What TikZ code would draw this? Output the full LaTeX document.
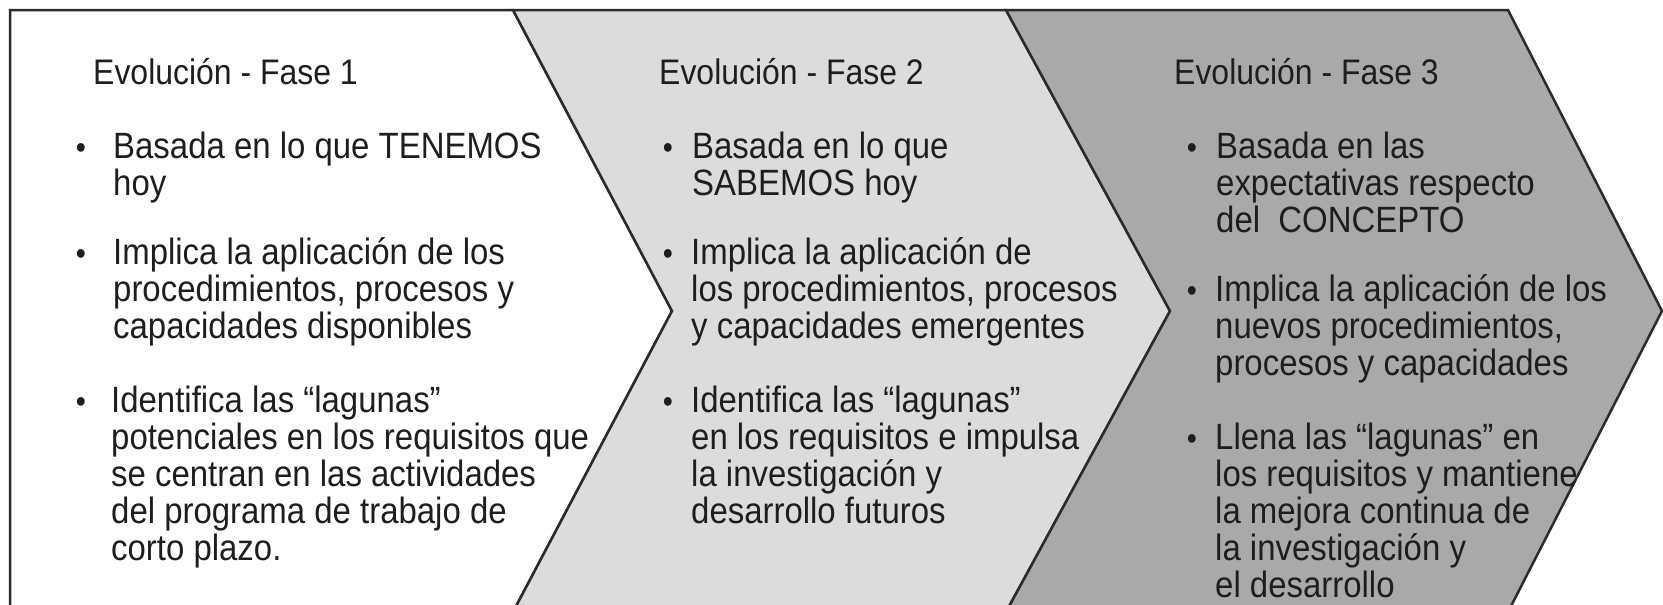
\documentclass[tikz,border=0pt]{standalone}
\usepackage{fontspec}
\setmainfont[FakeStretch=0.9]{Liberation Sans}
\definecolor{edge}{HTML}{2B2B2B}
\definecolor{fillA}{HTML}{FFFFFF}
\definecolor{fillB}{HTML}{DCDCDC}
\definecolor{fillC}{HTML}{A9A9A9}
\definecolor{ink}{HTML}{1E1E1E}
\tikzset{
  phase/.style={draw=edge, line width=2.5pt, line join=miter},
  headtext/.style={anchor=base west, inner sep=0pt, text=ink, font=\fontsize{35.5}{37}\selectfont},
  bodytext/.style={anchor=base west, inner sep=0pt, text=ink, font=\fontsize{36.6}{37}\selectfont},
  dottext/.style={anchor=base, inner sep=0pt, text=ink, font=\fontsize{32}{32}\selectfont},
}
\newcommand{\lines}[1]{\parbox[t]{640pt}{#1}}
\begin{document}
\begin{tikzpicture}[x=1pt,y=-1pt]
\useasboundingbox (0,0) rectangle (1663,605);
\begin{scope}
\clip (0,0) rectangle (1663,605);
\path[phase, fill=fillA] (10,10) -- (513,10) -- (672,311) -- (513,612) -- (10,612) -- cycle;
\path[phase, fill=fillB] (513,10) -- (1006,10) -- (1170,311) -- (1006,612) -- (513,612) -- (672,311) -- cycle;
\path[phase, fill=fillC] (1006,10) -- (1508,10) -- (1662,311) -- (1508,612) -- (1006,612) -- (1170,311) -- cycle;
\end{scope}

% Phase 1
\node[headtext] (t1) at (93,84) {Evolución - Fase 1};
\node[dottext] (d1a) at (81,158) {•};
\node[bodytext] (p1a) at (113,158) {\lines{Basada en lo que TENEMOS\\hoy}};
\node[dottext] (d1b) at (81,264) {•};
\node[bodytext] (p1b) at (113,264) {\lines{Implica la aplicación de los\\procedimientos, procesos y\\capacidades disponibles}};
\node[dottext] (d1c) at (81,412) {•};
\node[bodytext] (p1c) at (111,412) {\lines{Identifica las “lagunas”\\potenciales en los requisitos que\\se centran en las actividades\\del programa de trabajo de\\corto plazo.}};

% Phase 2
\node[headtext] (t2) at (659,84) {Evolución - Fase 2};
\node[dottext] (d2a) at (668,158) {•};
\node[bodytext] (p2a) at (692,158) {\lines{Basada en lo que\\SABEMOS hoy}};
\node[dottext] (d2b) at (668,264) {•};
\node[bodytext] (p2b) at (691,264) {\lines{Implica la aplicación de\\los procedimientos, procesos\\y capacidades emergentes}};
\node[dottext] (d2c) at (668,412) {•};
\node[bodytext] (p2c) at (691,412) {\lines{Identifica las “lagunas”\\en los requisitos e impulsa\\la investigación y\\desarrollo futuros}};

% Phase 3
\node[headtext] (t3) at (1174,84) {Evolución - Fase 3};
\node[dottext] (d3a) at (1192,158) {•};
\node[bodytext] (p3a) at (1216,158) {\lines{Basada en las\\expectativas respecto\\del\ \ CONCEPTO}};
\node[dottext] (d3b) at (1192,301) {•};
\node[bodytext] (p3b) at (1215,301) {\lines{Implica la aplicación de los\\nuevos procedimientos,\\procesos y capacidades}};
\node[dottext] (d3c) at (1192,449) {•};
\node[bodytext] (p3c) at (1215,449) {\lines{Llena las “lagunas” en\\los requisitos y mantiene\\la mejora continua de\\la investigación y\\el desarrollo}};
\end{tikzpicture}
\end{document}
